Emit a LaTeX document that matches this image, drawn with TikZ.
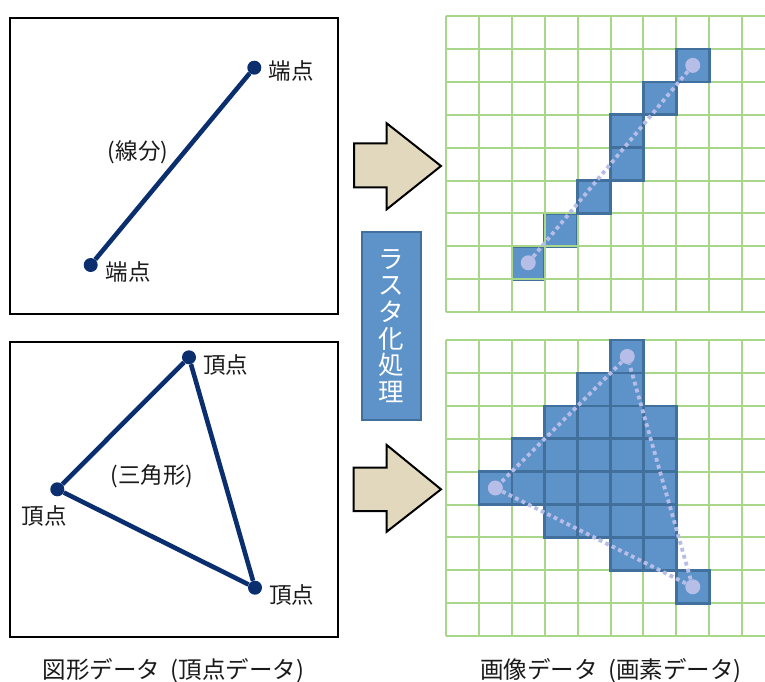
\documentclass[tikz,border=0pt]{standalone}
\usepackage{fontspec}
\setmainfont{Noto Sans CJK JP}
\definecolor{navyc}{HTML}{0B2E6F}
\definecolor{txt}{HTML}{1A1A1A}
\definecolor{gridg}{HTML}{A9D78A}
\definecolor{cellb}{HTML}{5E93C9}
\definecolor{cellbd}{HTML}{41709C}
\definecolor{lav}{HTML}{B6BDE6}
\definecolor{beige}{HTML}{E1D8BE}
\newcommand\pcell[3]{\draw[cell] ({446+#1*32.9},{#3+#2*32.9}) rectangle ++(32.9,32.9);}
\begin{document}
\begin{tikzpicture}[x=1pt,y=-1pt,
  panel/.style={draw=black,line width=2pt},
  navy/.style={draw=navyc,line width=4.6pt},
  vdot/.style={circle,fill=navyc,inner sep=0pt,minimum size=14pt},
  lbl/.style={font=\fontsize{22.5}{26}\selectfont,text=txt,inner sep=0pt},
  captext/.style={font=\fontsize{23.5}{27}\selectfont,text=txt,inner sep=0pt},
  gridline/.style={draw=gridg,line width=2pt},
  cell/.style={fill=cellb,draw=cellbd,line width=2.6pt},
  pdot/.style={circle,fill=lav,inner sep=0pt,minimum size=15pt},
  pline/.style={draw=lav,line width=3.8pt,dash pattern=on 3.8pt off 3.4pt},
  bigarrow/.style={fill=beige,draw=black,line width=2pt,line join=miter},
]
\useasboundingbox (0,0) rectangle (765,681);

% ---------- left: vector data ----------
\draw[panel] (10,18) rectangle (338,314);
\node[vdot] (e1) at (90.7,265) {};
\node[vdot] (e2) at (254.3,67.7) {};
\draw[navy] (e1) -- (e2);
\node[lbl] (le2) at (291,71) {端点};
\node[lbl] (le1) at (128,272) {端点};
\node[lbl] (lseg) at (138,152) {(線分)};

\draw[panel] (10,341.7) rectangle (338,637.3);
\node[vdot] (t1) at (189,357.3) {};
\node[vdot] (t2) at (57.3,489.3) {};
\node[vdot] (t3) at (255,587.7) {};
\draw[navy] (t1) -- (t2);
\draw[navy] (t2) -- (t3);
\draw[navy] (t3) -- (t1);
\node[lbl] (lt1) at (225.5,365) {頂点};
\node[lbl] (lt2) at (44,515.5) {頂点};
\node[lbl] (lt3) at (291.7,595) {頂点};
\node[lbl] (ltri) at (152,476) {(三角形)};

\node[captext] (capl) at (173.3,671) {図形データ\hspace{0.45em}(頂点データ)};

% ---------- arrows ----------
\draw[bigarrow] (354,143.3) -- (386.7,143.3) -- (386.7,123.3) -- (441,166)
  -- (386.7,209.3) -- (386.7,187.3) -- (354,187.3) -- cycle;
\draw[bigarrow] (353.5,467.7) -- (386.7,467.7) -- (386.7,445) -- (441,489.3)
  -- (386.7,531.7) -- (386.7,511) -- (353.5,511) -- cycle;

\node[draw=cellbd,fill=cellb,line width=2pt,minimum width=59pt,minimum height=188pt,
  text=white,align=center,font=\fontsize{25.5}{26.7}\selectfont,inner sep=0pt]
  (rbox) at (391.3,325.9) {ラ\\ス\\タ\\化\\処\\理};

% ---------- right: pixel grids ----------
\pcell{3}{6}{16}
\pcell{2}{7}{16}
\foreach \gy in {16,340}{
  \foreach \i in {0,...,9}
    \draw[gridline] ({446+\i*32.9},\gy) -- ({446+\i*32.9},{\gy+9*32.9});
  \foreach \j in {0,...,9}
    \draw[gridline] (446,{\gy+\j*32.9}) -- (765,{\gy+\j*32.9});
}
% top grid cells
\pcell{7}{1}{16}
\pcell{6}{2}{16}
\pcell{5}{3}{16}
\pcell{5}{4}{16}
\pcell{4}{5}{16}
\node[pdot] (p1) at (528.25,262.75) {};
\node[pdot] (p2) at (692.75,65.35) {};
\draw[pline] (p1) -- (p2);

% bottom grid cells
\pcell{5}{0}{340}
\foreach \c in {4,5} {\pcell{\c}{1}{340}}
\foreach \c in {3,...,6} {\pcell{\c}{2}{340}}
\foreach \c in {2,...,6} {\pcell{\c}{3}{340}}
\foreach \c in {1,...,6} {\pcell{\c}{4}{340}}
\foreach \c in {3,...,6} {\pcell{\c}{5}{340}}
\foreach \c in {5,6} {\pcell{\c}{6}{340}}
\pcell{7}{7}{340}
\node[pdot] (q1) at (627.25,356.45) {};
\node[pdot] (q2) at (495.35,488) {};
\node[pdot] (q3) at (692.75,586.75) {};
\draw[pline] (q1) -- (q2);
\draw[pline] (q2) -- (q3);
\draw[pline] (q3) -- (q1);

\node[captext] (capr) at (610.8,671) {画像データ\hspace{0.45em}(画素データ)};
\end{tikzpicture}
\end{document}
